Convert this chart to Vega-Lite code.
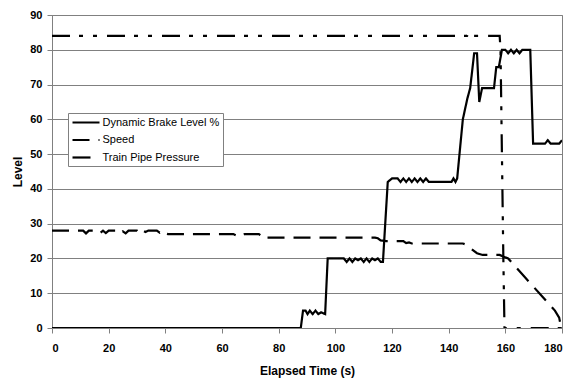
{
  "$schema": "https://vega.github.io/schema/vega-lite/v6.json",
  "width": 510,
  "height": 313,
  "autosize": {"type": "none"},
  "padding": {"left": 52, "top": 15, "right": 9, "bottom": 51},
  "background": "white",
  "config": {
    "font": "Liberation Sans",
    "view": {"stroke": "#808080", "strokeWidth": 1},
    "axis": {
      "labelFont": "Liberation Sans",
      "labelFontWeight": "bold",
      "labelFontSize": 11,
      "labelColor": "black",
      "titleFont": "Liberation Sans",
      "titleFontSize": 12,
      "titleFontWeight": "bold",
      "titleColor": "black",
      "tickSize": 5,
      "tickColor": "#808080",
      "domainColor": "#808080",
      "gridColor": "#808080",
      "gridOpacity": 1
    }
  },
  "data": {
    "values": [
      {"t": 0, "v": 0, "s": "Dynamic Brake Level %"},
      {"t": 87.8, "v": 0, "s": "Dynamic Brake Level %"},
      {"t": 88.6, "v": 5, "s": "Dynamic Brake Level %"},
      {"t": 89.5, "v": 5, "s": "Dynamic Brake Level %"},
      {"t": 90.2, "v": 4, "s": "Dynamic Brake Level %"},
      {"t": 91, "v": 5, "s": "Dynamic Brake Level %"},
      {"t": 92, "v": 4, "s": "Dynamic Brake Level %"},
      {"t": 93, "v": 5, "s": "Dynamic Brake Level %"},
      {"t": 94, "v": 4, "s": "Dynamic Brake Level %"},
      {"t": 95, "v": 4.5, "s": "Dynamic Brake Level %"},
      {"t": 96.4, "v": 4, "s": "Dynamic Brake Level %"},
      {"t": 97.3, "v": 20, "s": "Dynamic Brake Level %"},
      {"t": 103, "v": 20, "s": "Dynamic Brake Level %"},
      {"t": 104, "v": 19, "s": "Dynamic Brake Level %"},
      {"t": 105, "v": 20, "s": "Dynamic Brake Level %"},
      {"t": 106, "v": 19, "s": "Dynamic Brake Level %"},
      {"t": 107, "v": 20, "s": "Dynamic Brake Level %"},
      {"t": 108, "v": 19.5, "s": "Dynamic Brake Level %"},
      {"t": 109, "v": 20, "s": "Dynamic Brake Level %"},
      {"t": 110, "v": 19, "s": "Dynamic Brake Level %"},
      {"t": 111, "v": 20, "s": "Dynamic Brake Level %"},
      {"t": 112, "v": 19, "s": "Dynamic Brake Level %"},
      {"t": 113, "v": 20, "s": "Dynamic Brake Level %"},
      {"t": 114, "v": 19.5, "s": "Dynamic Brake Level %"},
      {"t": 115, "v": 20, "s": "Dynamic Brake Level %"},
      {"t": 116, "v": 19, "s": "Dynamic Brake Level %"},
      {"t": 116.8, "v": 19, "s": "Dynamic Brake Level %"},
      {"t": 118.5, "v": 42, "s": "Dynamic Brake Level %"},
      {"t": 120, "v": 43, "s": "Dynamic Brake Level %"},
      {"t": 122, "v": 43, "s": "Dynamic Brake Level %"},
      {"t": 123, "v": 42, "s": "Dynamic Brake Level %"},
      {"t": 124, "v": 43, "s": "Dynamic Brake Level %"},
      {"t": 125, "v": 42, "s": "Dynamic Brake Level %"},
      {"t": 126, "v": 43, "s": "Dynamic Brake Level %"},
      {"t": 127, "v": 42, "s": "Dynamic Brake Level %"},
      {"t": 128, "v": 43, "s": "Dynamic Brake Level %"},
      {"t": 129, "v": 42, "s": "Dynamic Brake Level %"},
      {"t": 130, "v": 43, "s": "Dynamic Brake Level %"},
      {"t": 131, "v": 42, "s": "Dynamic Brake Level %"},
      {"t": 132, "v": 43, "s": "Dynamic Brake Level %"},
      {"t": 133, "v": 42, "s": "Dynamic Brake Level %"},
      {"t": 141, "v": 42, "s": "Dynamic Brake Level %"},
      {"t": 141.7, "v": 43, "s": "Dynamic Brake Level %"},
      {"t": 142.4, "v": 42, "s": "Dynamic Brake Level %"},
      {"t": 143, "v": 43, "s": "Dynamic Brake Level %"},
      {"t": 145, "v": 60, "s": "Dynamic Brake Level %"},
      {"t": 146.6, "v": 66, "s": "Dynamic Brake Level %"},
      {"t": 147.6, "v": 69, "s": "Dynamic Brake Level %"},
      {"t": 149, "v": 79, "s": "Dynamic Brake Level %"},
      {"t": 150, "v": 79, "s": "Dynamic Brake Level %"},
      {"t": 150.8, "v": 65, "s": "Dynamic Brake Level %"},
      {"t": 151.8, "v": 69, "s": "Dynamic Brake Level %"},
      {"t": 156, "v": 69, "s": "Dynamic Brake Level %"},
      {"t": 156.8, "v": 75, "s": "Dynamic Brake Level %"},
      {"t": 157.7, "v": 75, "s": "Dynamic Brake Level %"},
      {"t": 158.8, "v": 80, "s": "Dynamic Brake Level %"},
      {"t": 160, "v": 80, "s": "Dynamic Brake Level %"},
      {"t": 161, "v": 79, "s": "Dynamic Brake Level %"},
      {"t": 162, "v": 80, "s": "Dynamic Brake Level %"},
      {"t": 163, "v": 79, "s": "Dynamic Brake Level %"},
      {"t": 164, "v": 80, "s": "Dynamic Brake Level %"},
      {"t": 165, "v": 79, "s": "Dynamic Brake Level %"},
      {"t": 166, "v": 80, "s": "Dynamic Brake Level %"},
      {"t": 168.8, "v": 80, "s": "Dynamic Brake Level %"},
      {"t": 169.8, "v": 53, "s": "Dynamic Brake Level %"},
      {"t": 174, "v": 53, "s": "Dynamic Brake Level %"},
      {"t": 175, "v": 54, "s": "Dynamic Brake Level %"},
      {"t": 176, "v": 53, "s": "Dynamic Brake Level %"},
      {"t": 179, "v": 53, "s": "Dynamic Brake Level %"},
      {"t": 180, "v": 54, "s": "Dynamic Brake Level %"},

      {"t": 0, "v": 28, "s": "Speed"},
      {"t": 11, "v": 28, "s": "Speed"},
      {"t": 12, "v": 27.2, "s": "Speed"},
      {"t": 13, "v": 28, "s": "Speed"},
      {"t": 16, "v": 28, "s": "Speed"},
      {"t": 17, "v": 27.3, "s": "Speed"},
      {"t": 18, "v": 28, "s": "Speed"},
      {"t": 19, "v": 27.3, "s": "Speed"},
      {"t": 20, "v": 28, "s": "Speed"},
      {"t": 23, "v": 28, "s": "Speed"},
      {"t": 24, "v": 27.2, "s": "Speed"},
      {"t": 25, "v": 27.8, "s": "Speed"},
      {"t": 26, "v": 27.2, "s": "Speed"},
      {"t": 27, "v": 28, "s": "Speed"},
      {"t": 30, "v": 28, "s": "Speed"},
      {"t": 31, "v": 27.2, "s": "Speed"},
      {"t": 32, "v": 28, "s": "Speed"},
      {"t": 33, "v": 27.6, "s": "Speed"},
      {"t": 34, "v": 28, "s": "Speed"},
      {"t": 37, "v": 28, "s": "Speed"},
      {"t": 38, "v": 27.4, "s": "Speed"},
      {"t": 39, "v": 28, "s": "Speed"},
      {"t": 40, "v": 27.2, "s": "Speed"},
      {"t": 41, "v": 27, "s": "Speed"},
      {"t": 64, "v": 27, "s": "Speed"},
      {"t": 65, "v": 26.6, "s": "Speed"},
      {"t": 66, "v": 27, "s": "Speed"},
      {"t": 67, "v": 26.6, "s": "Speed"},
      {"t": 68, "v": 27, "s": "Speed"},
      {"t": 73, "v": 27, "s": "Speed"},
      {"t": 74, "v": 26.4, "s": "Speed"},
      {"t": 75, "v": 26.8, "s": "Speed"},
      {"t": 76, "v": 26, "s": "Speed"},
      {"t": 114, "v": 26, "s": "Speed"},
      {"t": 115, "v": 25.8, "s": "Speed"},
      {"t": 116, "v": 25.2, "s": "Speed"},
      {"t": 118, "v": 25, "s": "Speed"},
      {"t": 124, "v": 25, "s": "Speed"},
      {"t": 125, "v": 24.4, "s": "Speed"},
      {"t": 126, "v": 24.6, "s": "Speed"},
      {"t": 127, "v": 24.3, "s": "Speed"},
      {"t": 145, "v": 24.3, "s": "Speed"},
      {"t": 146, "v": 24, "s": "Speed"},
      {"t": 148, "v": 22.7, "s": "Speed"},
      {"t": 150, "v": 21.5, "s": "Speed"},
      {"t": 152, "v": 21, "s": "Speed"},
      {"t": 158, "v": 21, "s": "Speed"},
      {"t": 160, "v": 20.3, "s": "Speed"},
      {"t": 161, "v": 20, "s": "Speed"},
      {"t": 167, "v": 14.5, "s": "Speed"},
      {"t": 172, "v": 10, "s": "Speed"},
      {"t": 177.5, "v": 5, "s": "Speed"},
      {"t": 179, "v": 3, "s": "Speed"},
      {"t": 179.6, "v": 0.5, "s": "Speed"},
      {"t": 180, "v": 0, "s": "Speed"},

      {"t": 0, "v": 84, "s": "Train Pipe Pressure"},
      {"t": 146.5, "v": 84, "s": "Train Pipe Pressure"},
      {"t": 147.3, "v": 85, "s": "Train Pipe Pressure"},
      {"t": 148, "v": 84, "s": "Train Pipe Pressure"},
      {"t": 158, "v": 84, "s": "Train Pipe Pressure"},
      {"t": 158.3, "v": 80, "s": "Train Pipe Pressure"},
      {"t": 158.8, "v": 50, "s": "Train Pipe Pressure"},
      {"t": 159.3, "v": 20, "s": "Train Pipe Pressure"},
      {"t": 159.7, "v": 0, "s": "Train Pipe Pressure"},
      {"t": 180, "v": 0, "s": "Train Pipe Pressure"}
    ]
  },
  "mark": {"type": "line", "strokeWidth": 2.2, "color": "black", "clip": true},
  "encoding": {
    "x": {
      "field": "t",
      "type": "quantitative",
      "scale": {"domain": [0, 180], "nice": false},
      "axis": {
        "values": [0, 20, 40, 60, 80, 100, 120, 140, 160, 180],
        "title": "Elapsed Time (s)",
        "grid": false,
        "labelPadding": 9,
        "titlePadding": 12
      }
    },
    "y": {
      "field": "v",
      "type": "quantitative",
      "scale": {"domain": [0, 90], "nice": false},
      "axis": {
        "values": [0, 10, 20, 30, 40, 50, 60, 70, 80, 90],
        "title": "Level",
        "grid": true,
        "labelPadding": 5,
        "titlePadding": 5
      }
    },
    "strokeDash": {
      "field": "s",
      "type": "nominal",
      "scale": {
        "domain": ["Dynamic Brake Level %", "Speed", "Train Pipe Pressure"],
        "range": [[1, 0], [17, 9], [18, 9, 4, 10, 4, 10]]
      },
      "legend": {
        "orient": "none",
        "legendX": 16,
        "legendY": 98,
        "title": null,
        "fillColor": "white",
        "strokeColor": "#808080",
        "padding": 3,
        "symbolType": "M-2.7,0H2.7",
        "symbolSize": 100,
        "symbolOffset": 8.5,
        "symbolStrokeWidth": 2.2,
        "symbolStrokeColor": "black",
        "labelFont": "Liberation Sans",
        "labelFontSize": 11,
        "labelColor": "black",
        "labelOffset": 10,
        "rowPadding": 5.5
      }
    }
  }
}
